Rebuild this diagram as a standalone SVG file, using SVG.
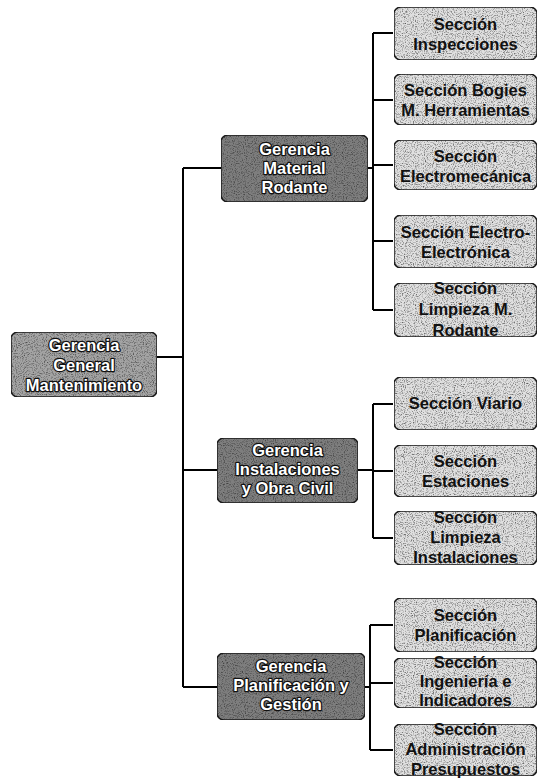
<svg xmlns="http://www.w3.org/2000/svg" width="538" height="779" viewBox="0 0 538 779">
  <defs>
    <!-- fine stipple texture for the box fills -->
    <filter id="grain" x="0" y="0" width="1" height="1" color-interpolation-filters="sRGB">
      <feTurbulence type="fractalNoise" baseFrequency="0.9" numOctaves="2" seed="7" result="n"/>
      <feColorMatrix in="n" type="matrix" values="0 0 0 0 0.15  0 0 0 0 0.15  0 0 0 0 0.15  0 0 0 -1.8 0.95" result="dots"/>
      <feComposite in="dots" in2="SourceGraphic" operator="atop"/>
    </filter>
  </defs>
  <style>
    .box { stroke: #1a1a1a; stroke-width: 1.5; filter: url(#grain); }
    .root { fill: #a4a4a4; }
    .mgr { fill: #7e7e7e; }
    .sec { fill: #e0e0e0; }
    text { font-family: "Liberation Sans", Arial, sans-serif; font-weight: bold; font-size: 16.5px; text-anchor: middle; }
    .light { fill: #ffffff; stroke: #111; stroke-width: 2.4; paint-order: stroke; stroke-linejoin: round; }
    .dark { fill: #111; }
    .wire { fill: none; stroke: #000; stroke-width: 2; }
  </style>
  <rect width="538" height="779" fill="#fff"/>

  <!-- connectors -->
  <g id="connectors" class="wire">
    <path d="M157 357 H183 M183 168 V687 M183 168 H221 M183 470 H217 M183 687 H217"/>
    <path d="M368 168 H373 M373 33 V310 M373 33 H393 M373 100 H393 M373 165 H393 M373 241 H393 M373 310 H393"/>
    <path d="M358 470 H373 M373 404 V538 M373 404 H393 M373 471 H393 M373 538 H393"/>
    <path d="M365 687 H370 M370 625 V750 M370 625 H393 M370 683 H393 M370 750 H393"/>
  </g>

  <!-- root -->
  <g id="gerencia-general">
    <rect class="box root" x="11" y="332" width="146" height="65" rx="7"/>
    <text class="light"><tspan x="84" y="351">Gerencia</tspan><tspan x="84" y="371">General</tspan><tspan x="84" y="391">Mantenimiento</tspan></text>
  </g>

  <!-- second level -->
  <g id="gerencia-material-rodante">
    <rect class="box mgr" x="221" y="135" width="147" height="67" rx="7"/>
    <text class="light"><tspan x="294.5" y="155">Gerencia</tspan><tspan x="294.5" y="174">Material</tspan><tspan x="294.5" y="193">Rodante</tspan></text>
  </g>
  <g id="gerencia-instalaciones">
    <rect class="box mgr" x="217" y="438" width="141" height="65" rx="7"/>
    <text class="light"><tspan x="287.5" y="456">Gerencia</tspan><tspan x="287.5" y="475">Instalaciones</tspan><tspan x="287.5" y="494">y Obra Civil</tspan></text>
  </g>
  <g id="gerencia-planificacion">
    <rect class="box mgr" x="217" y="653" width="148" height="67" rx="7"/>
    <text class="light"><tspan x="291" y="672">Gerencia</tspan><tspan x="291" y="691">Planificación y</tspan><tspan x="291" y="710">Gestión</tspan></text>
  </g>

  <!-- sections: Material Rodante -->
  <g id="sec-inspecciones">
    <rect class="box sec" x="394" y="7" width="143" height="53" rx="7"/>
    <text class="dark"><tspan x="465.5" y="30">Sección</tspan><tspan x="465.5" y="50">Inspecciones</tspan></text>
  </g>
  <g id="sec-bogies">
    <rect class="box sec" x="394" y="74" width="143" height="51" rx="7"/>
    <text class="dark"><tspan x="465.5" y="96">Sección Bogies</tspan><tspan x="465.5" y="116">M. Herramientas</tspan></text>
  </g>
  <g id="sec-electromecanica">
    <rect class="box sec" x="394" y="140" width="143" height="50" rx="7"/>
    <text class="dark"><tspan x="465.5" y="162">Sección</tspan><tspan x="465.5" y="182">Electromecánica</tspan></text>
  </g>
  <g id="sec-electroelectronica">
    <rect class="box sec" x="394" y="215" width="143" height="53" rx="7"/>
    <text class="dark"><tspan x="465.5" y="238">Sección Electro-</tspan><tspan x="465.5" y="258">Electrónica</tspan></text>
  </g>
  <g id="sec-limpieza-rodante">
    <rect class="box sec" x="394" y="283" width="143" height="54" rx="7"/>
    <text class="dark"><tspan x="465.5" y="294">Sección</tspan><tspan x="465.5" y="315">Limpieza M.</tspan><tspan x="465.5" y="336">Rodante</tspan></text>
  </g>

  <!-- sections: Instalaciones -->
  <g id="sec-viario">
    <rect class="box sec" x="394" y="377" width="143" height="53" rx="7"/>
    <text class="dark"><tspan x="465.5" y="409">Sección Viario</tspan></text>
  </g>
  <g id="sec-estaciones">
    <rect class="box sec" x="394" y="445" width="143" height="52" rx="7"/>
    <text class="dark"><tspan x="465.5" y="467">Sección</tspan><tspan x="465.5" y="487">Estaciones</tspan></text>
  </g>
  <g id="sec-limpieza-instalaciones">
    <rect class="box sec" x="394" y="511" width="143" height="54" rx="7"/>
    <text class="dark"><tspan x="465.5" y="523">Sección</tspan><tspan x="465.5" y="543">Limpieza</tspan><tspan x="465.5" y="563">Instalaciones</tspan></text>
  </g>

  <!-- sections: Planificación -->
  <g id="sec-planificacion">
    <rect class="box sec" x="394" y="598" width="143" height="54" rx="7"/>
    <text class="dark"><tspan x="465.5" y="621">Sección</tspan><tspan x="465.5" y="641">Planificación</tspan></text>
  </g>
  <g id="sec-ingenieria">
    <rect class="box sec" x="394" y="658" width="143" height="50" rx="7"/>
    <text class="dark"><tspan x="465.5" y="668">Sección</tspan><tspan x="465.5" y="687">Ingeniería e</tspan><tspan x="465.5" y="706">Indicadores</tspan></text>
  </g>
  <g id="sec-administracion">
    <rect class="box sec" x="394" y="724" width="143" height="52" rx="7"/>
    <text class="dark"><tspan x="465.5" y="735">Sección</tspan><tspan x="465.5" y="755">Administración</tspan><tspan x="465.5" y="775">Presupuestos</tspan></text>
  </g>
</svg>
